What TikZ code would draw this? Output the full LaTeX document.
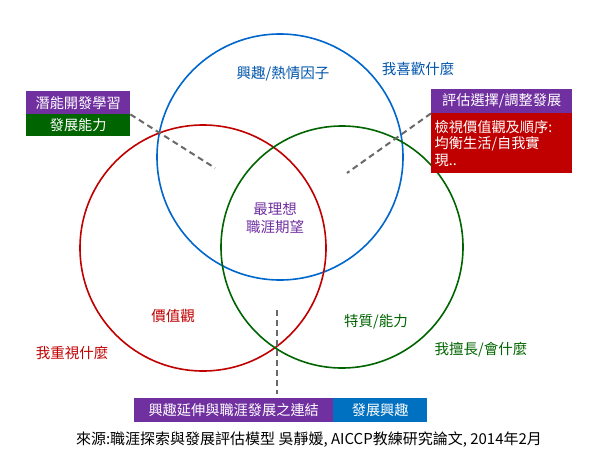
\documentclass[tikz,border=0pt]{standalone}
\usepackage{fontspec}
\setmainfont{Noto Sans CJK TC}
\definecolor{cblue}{RGB}{0,102,204}
\definecolor{tblue}{RGB}{0,84,170}
\definecolor{cred}{RGB}{192,0,0}
\definecolor{cgreen}{RGB}{0,100,0}
\definecolor{cpurple}{RGB}{112,48,160}
\definecolor{bblue}{RGB}{0,112,192}
\definecolor{dgray}{RGB}{105,105,105}
\tikzset{
  ring/.style={circle, draw, line width=1.6pt, minimum size=#1, inner sep=0pt},
  lbl/.style={font=\fontsize{14.5}{17}\selectfont, inner sep=0pt},
  tag/.style={font=\fontsize{14.2}{17}\selectfont, text=white, inner sep=0pt, anchor=north west},
  link/.style={dgray, line width=2pt, dash pattern=on 6pt off 4pt},
}
\begin{document}
\begin{tikzpicture}[x=1pt,y=-1pt]
\useasboundingbox (0,0) rectangle (600,471);
% circles
\node[ring=246pt, cblue] (blue) at (280,157) {};
\node[ring=246pt, cred] (red) at (203,248) {};
\node[ring=242pt, cgreen] (green) at (342,247) {};
% circle labels
\node[lbl, text=tblue] (l1) at (283,74) {興趣/熱情因子};
\node[lbl, text=tblue] (l2) at (418,69) {我喜歡什麼};
\node[lbl, text=cpurple, align=center, font=\fontsize{14.5}{17.5}\selectfont] (l3) at (275,218) {最理想\\職涯期望};
\node[lbl, text=cred] (l4) at (173,316) {價值觀};
\node[lbl, text=cred] (l5) at (72,353) {我重視什麼};
\node[lbl, text=cgreen] (l6) at (376,322) {特質/能力};
\node[lbl, text=cgreen] (l7) at (481,350) {我擅長/會什麼};
% left boxes
\node[tag, fill=cpurple, minimum width=104pt, minimum height=23pt] (b1) at (26,91) {潛能開發學習};
\node[tag, fill=cgreen, minimum width=104pt, minimum height=22pt] (b2) at (26,114) {發展能力};
% right boxes
\node[tag, fill=cpurple, minimum width=141pt, minimum height=24pt] (b3) at (431,89) {評估選擇/調整發展};
\node[tag, fill=cred, minimum width=141pt, minimum height=60pt, text width=134pt, align=left, inner xsep=3.5pt, inner ysep=2.5pt, font=\fontsize{14.2}{16.5}\selectfont, anchor=north west] (b4) at (431,113) {檢視價值觀及順序:\\均衡生活/自我實\\現..};
% bottom boxes
\node[tag, fill=cpurple, minimum width=199pt, minimum height=24pt] (b5) at (134,398) {興趣延伸與職涯發展之連結};
\node[tag, fill=bblue, minimum width=94pt, minimum height=24pt] (b6) at (333,398) {發展興趣};
% connectors
\coordinate (e1) at (215,168);
\coordinate (e2) at (347,173);
\coordinate (e3) at (277,310);
\coordinate (e4) at (277,394);
\draw[link] (b1.south east) -- (e1);
\draw[link] (b3.south west) -- (e2);
\draw[link] (e3) -- (e4);
% caption
\node[font=\fontsize{15}{18}\selectfont, inner sep=0pt] (cap) at (309,440) {來源:職涯探索與發展評估模型 吳靜媛, AICCP教練研究論文, 2014年2月};
\end{tikzpicture}
\end{document}
